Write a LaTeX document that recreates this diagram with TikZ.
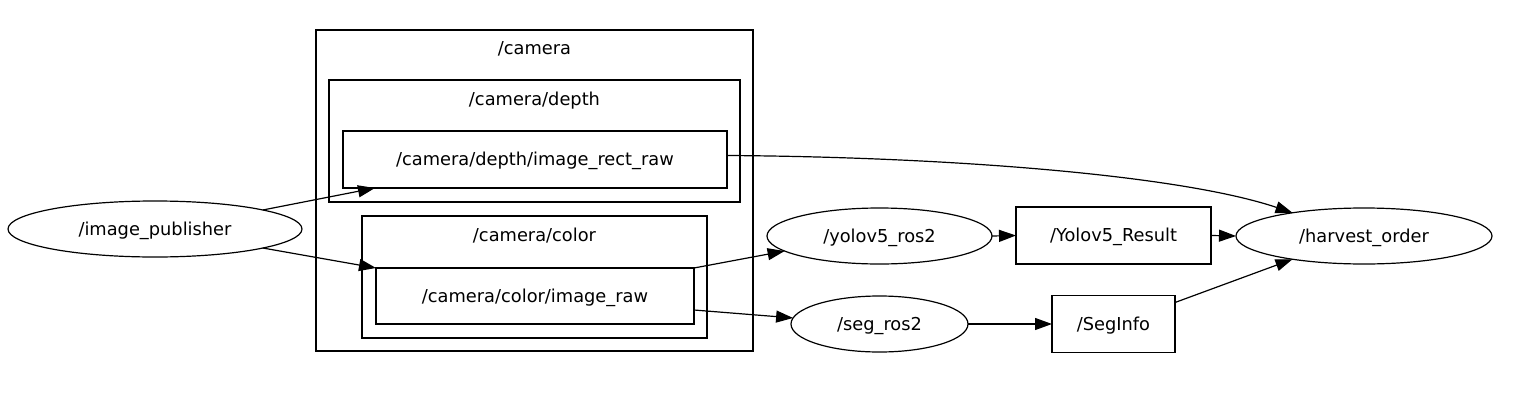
\documentclass[tikz,border=0pt]{standalone}
\usepackage{fontspec}
\setmainfont{DejaVu Sans}
\usetikzlibrary{shapes.geometric,arrows.meta}
\begin{document}
\begin{tikzpicture}[x=1pt,y=-1pt,line width=1.2pt,
  every node/.style={font=\fontsize{17.8}{20}\selectfont,inner sep=0pt,outer sep=0pt,text height=14pt,text depth=1.5pt},
  frame/.style={draw,rectangle},
  topicbox/.style={draw,rectangle},
  nodeell/.style={draw,ellipse},
  edge/.style={-{Triangle[length=17pt,width=12pt]}}]
\useasboundingbox (0,0) rectangle (1532,407);
% clusters
\node[frame,minimum width=437pt,minimum height=321pt] (cam) at (534.5,190.5) {};
\node (camlbl) at (534.5,48) {/camera};
\node[frame,minimum width=411pt,minimum height=122pt] (depthcl) at (534.5,141) {};
\node (depthlbl) at (534.5,99) {/camera/depth};
\node[frame,minimum width=345pt,minimum height=122pt] (colorcl) at (534.5,277) {};
\node (colorlbl) at (534.5,235) {/camera/color};
% topics
\node[topicbox,minimum width=384pt,minimum height=57pt] (depth) at (535,159.5) {/camera/depth/image\_rect\_raw};
\node[topicbox,minimum width=318pt,minimum height=56pt] (color) at (535,296) {/camera/color/image\_raw};
\node[topicbox,minimum width=195pt,minimum height=57pt] (yres) at (1113.5,235.5) {/Yolov5\_Result};
\node[topicbox,minimum width=123pt,minimum height=57pt] (seginfo) at (1113.5,324) {/SegInfo};
% ros nodes
\node[nodeell,minimum width=294pt,minimum height=56pt] (pub) at (155,229) {/image\_publisher};
\node[nodeell,minimum width=225pt,minimum height=56pt] (yolo) at (879.5,236) {/yolov5\_ros2};
\node[nodeell,minimum width=177pt,minimum height=56pt] (seg) at (879.5,324) {/seg\_ros2};
\node[nodeell,minimum width=256pt,minimum height=56pt] (harv) at (1364,236) {/harvest\_order};
% edges
\draw[edge] (pub.10) -- ([xshift=32pt]depth.south west);
\draw[edge] (pub.-10) -- (color.north west);
\draw[edge] (color.north east) -- (yolo.189);
\draw[edge] ([yshift=-14pt]color.east) -- (seg.176);
\draw[edge] ([yshift=4pt]depth.east) .. controls (950,157) and (1180,175) .. (harv.162);
\draw[edge] (yolo.east) -- (yres.west);
\draw[edge] (yres.east) -- (harv.west);
\draw[edge] (seg.east) -- (seginfo.west);
\draw[edge] ([yshift=-7pt]seginfo.north east) -- (harv.198);
\end{tikzpicture}
\end{document}
